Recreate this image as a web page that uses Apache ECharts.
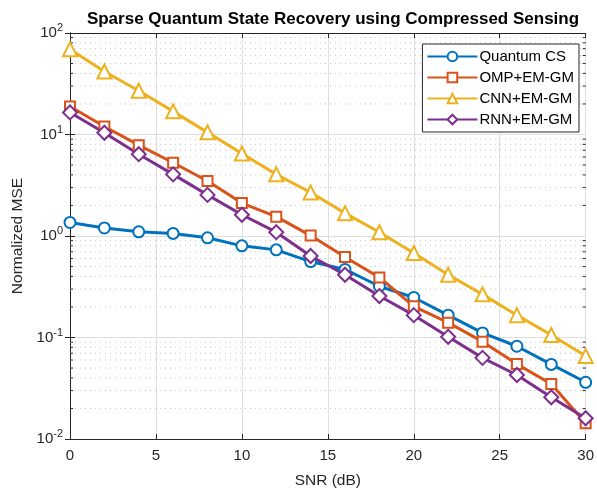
<!DOCTYPE html>
<html>
<head>
<meta charset="utf-8">
<script src="https://cdn.jsdelivr.net/npm/echarts@6/dist/echarts.min.js"></script>
<style>
html, body { margin: 0; padding: 0; background: #fff; }
#chart { width: 597px; height: 494px; }
</style>
</head>
<body>
<div id="chart"></div>
<script>
var snr = [0, 2, 4, 6, 8, 10, 12, 14, 16, 18, 20, 22, 24, 26, 28, 30];
var quantumCS = [1.36, 1.2, 1.1, 1.06, 0.96, 0.80, 0.73, 0.56, 0.468, 0.32, 0.248, 0.166, 0.111, 0.082, 0.0543, 0.0362];
var ompEmGm = [18.9, 12.0, 7.85, 5.27, 3.48, 2.11, 1.55, 1.01, 0.62, 0.39, 0.203, 0.14, 0.091, 0.0547, 0.0348, 0.0143];
var cnnEmGm = [69, 41.8, 27, 16.9, 10.5, 6.5, 4.05, 2.68, 1.68, 1.09, 0.68, 0.415, 0.266, 0.166, 0.106, 0.0656];
var rnnEmGm = [16.5, 10.4, 6.4, 4.05, 2.54, 1.62, 1.09, 0.635, 0.415, 0.256, 0.166, 0.1016, 0.063, 0.0427, 0.0258, 0.016];
var seriesNames = ['Quantum CS', 'OMP+EM-GM', 'CNN+EM-GM', 'RNN+EM-GM'];
var minorVals = [];
[0.01, 0.1, 1, 10].forEach(function (d) {
	for (var k = 2; k <= 9; k++) minorVals.push(d * k);
});

var axisColor = '#262626';
var font = 'Liberation Sans';

function pairs(vals) {
	return vals.map(function (v, i) { return [snr[i], v]; });
}

function lineSeries(name, vals, color, symbol, size) {
	return {
		name: name,
		type: 'line',
		data: pairs(vals),
		symbol: symbol,
		symbolSize: size,
		clip: false,
		z: 3,
		lineStyle: { color: color, width: 3 },
		itemStyle: { color: color, borderColor: color, borderWidth: 2.5 }
	};
}

var chart = echarts.init(document.getElementById('chart'));

var option = {
	backgroundColor: '#fff',
	animation: false,
	textStyle: { fontFamily: font },
	title: {
		text: 'Sparse Quantum State Recovery using Compressed Sensing',
		left: 328,
		textAlign: 'center',
		top: 6,
		textStyle: { fontSize: 17, fontWeight: 'bold', color: '#000', fontFamily: font }
	},
	grid: { left: 70, right: 10, top: 33, bottom: 53 },
	legend: {
		data: seriesNames,
		orient: 'vertical',
		right: 18,
		top: 44,
		itemWidth: 50,
		itemHeight: 12,
		itemGap: 6,
		padding: [5, 5, 5, 4],
		borderColor: axisColor,
		borderWidth: 1,
		backgroundColor: '#fff',
		textStyle: { fontSize: 15, color: '#000', fontFamily: font, padding: [0, 0, 0, -3] }
	},
	xAxis: [{
		type: 'value',
		min: 0,
		max: 30,
		interval: 5,
		name: 'SNR (dB)',
		nameLocation: 'middle',
		nameGap: 34,
		nameTextStyle: { fontSize: 15.5, color: axisColor, fontFamily: font },
		axisLine: { lineStyle: { color: axisColor, width: 1 } },
		axisTick: { inside: true, length: 5, lineStyle: { color: axisColor } },
		axisLabel: { fontSize: 15, color: axisColor, margin: 9, fontFamily: font },
		splitLine: { show: true, lineStyle: { color: '#dedede', width: 1 } }
	}, {
		type: 'value',
		position: 'top',
		min: 0,
		max: 30,
		interval: 5,
		axisLine: { show: true, lineStyle: { color: axisColor, width: 1 } },
		axisTick: { show: true, inside: true, length: 5, lineStyle: { color: axisColor } },
		axisLabel: { show: false },
		splitLine: { show: false }
	}],
	yAxis: [{
		type: 'log',
		logBase: 10,
		min: 0.01,
		max: 100,
		interval: 1,
		name: 'Normalized MSE',
		nameLocation: 'middle',
		nameGap: 44,
		nameTextStyle: { fontSize: 15.5, color: axisColor, fontFamily: font },
		axisLine: { show: true, lineStyle: { color: axisColor, width: 1 } },
		axisTick: { show: true, inside: true, length: 5, lineStyle: { color: axisColor } },
		axisLabel: {
			fontSize: 15,
			color: axisColor,
			margin: 7,
			fontFamily: font,
			formatter: function (v) {
				return '10{s|' + Math.round(Math.log10(v)) + '}';
			},
			rich: {
				s: { fontSize: 11, color: axisColor, fontFamily: font, verticalAlign: 'bottom', padding: [0, 0, 10, 0] }
			}
		},
		splitLine: { show: true, lineStyle: { color: '#dedede', width: 1 } }
	}, {
		type: 'log',
		logBase: 10,
		min: 0.01,
		max: 100,
		interval: 1,
		position: 'right',
		axisLine: { show: true, lineStyle: { color: axisColor, width: 1 } },
		axisTick: { show: true, inside: true, length: 5, lineStyle: { color: axisColor } },
		axisLabel: { show: false },
		splitLine: { show: false }
	}],
	series: [
		{
			name: 'minor',
			type: 'custom',
			silent: true,
			z: 1,
			data: minorVals.map(function (v) { return [0, v]; }),
			renderItem: function (params, api) {
				var v = api.value(1);
				var p0 = api.coord([0, v]);
				var p1 = api.coord([30, v]);
				var tickStyle = { stroke: axisColor, lineWidth: 1 };
				return {
					type: 'group',
					children: [{
						type: 'line',
						shape: { x1: p0[0], y1: p0[1], x2: p1[0], y2: p1[1] },
						style: { stroke: '#c4c4c4', lineWidth: 1, lineDash: [1, 4] }
					}, {
						type: 'line',
						shape: { x1: p0[0], y1: p0[1], x2: p0[0] + 3, y2: p0[1] },
						style: tickStyle
					}, {
						type: 'line',
						shape: { x1: p1[0] - 3, y1: p1[1], x2: p1[0], y2: p1[1] },
						style: tickStyle
					}]
				};
			}
		},
		lineSeries('Quantum CS', quantumCS, '#0072BD', 'emptyCircle', 11),
		lineSeries('OMP+EM-GM', ompEmGm, '#D95319', 'emptyRect', 10),
		lineSeries('CNN+EM-GM', cnnEmGm, '#EDB120', 'emptyTriangle', 14),
		lineSeries('RNN+EM-GM', rnnEmGm, '#7E2F8E', 'emptyDiamond', 14)
	]
};
chart.setOption(option);
</script>
</body>
</html>
